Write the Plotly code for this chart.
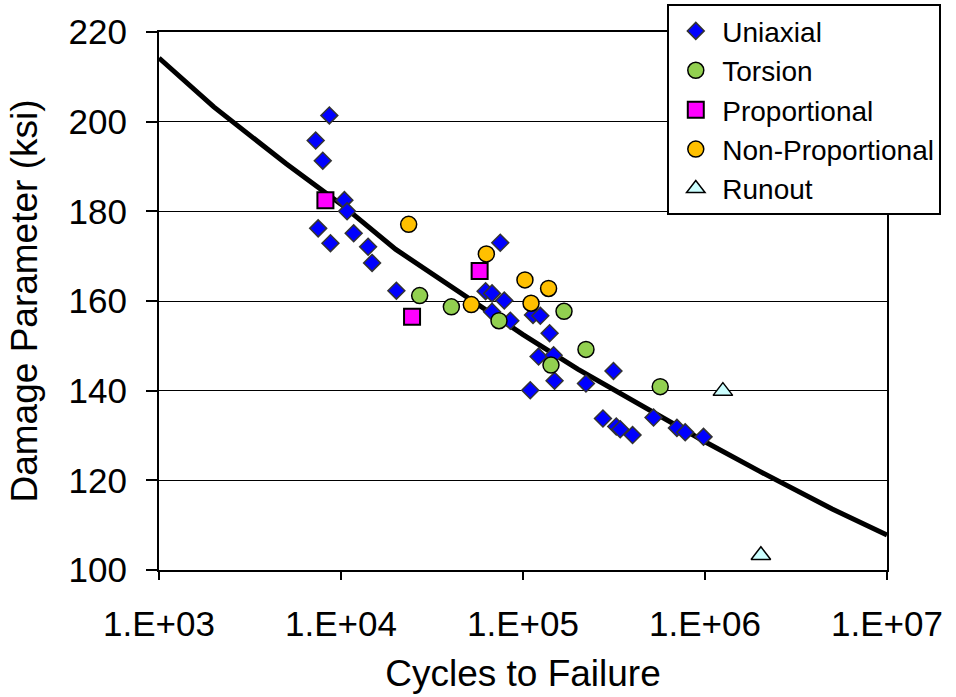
import plotly.graph_objects as go

# Fatigue test results: cycles to failure vs. damage parameter (ksi)
uniaxial_cycles = [8630, 7260, 7940, 10440, 10800, 7490, 8750, 11740, 14090, 14820,
                   20150, 75000, 62300, 67600, 78900, 67600, 85200, 113500, 124500, 140000,
                   121800, 147300, 149100, 221800, 314200, 109600, 275000, 325400, 342200,
                   399900, 521500, 701000, 778500, 981300]
uniaxial_dp = [201.4, 195.8, 191.3, 182.5, 180.0, 176.2, 172.9, 175.1, 172.1, 168.5,
               162.3, 173.0, 162.2, 161.7, 160.1, 157.6, 155.6, 156.9, 156.7, 152.8,
               147.6, 147.9, 142.2, 141.6, 144.4, 140.1, 133.8, 132.0, 131.4,
               130.1, 134.0, 131.7, 130.7, 129.7]

torsion_cycles = [27050, 40400, 73800, 168000, 221800, 142500, 567500]
torsion_dp = [161.2, 158.7, 155.6, 157.7, 149.2, 145.7, 140.9]

proportional_cycles = [8210, 24570, 57770]
proportional_dp = [182.5, 156.5, 166.7]

nonprop_cycles = [23540, 62900, 102500, 138200, 52000, 110700]
nonprop_dp = [177.1, 170.5, 164.7, 162.8, 159.2, 159.5]

runout_cycles = [1254000, 2028000]
runout_dp = [139.9, 103.3]

# Life prediction curve
curve_cycles = [1e3, 2e3, 5e3, 1e4, 2e4, 5e4, 1e5, 2e5, 5e5, 1e6, 2e6, 5e6, 1e7]
curve_dp = [214.2, 203.3, 190.6, 181.6, 171.5, 160.5, 152.5, 144.8, 135.5, 128.6, 122.0, 113.6, 107.8]

x_tick_vals = [1e3, 1e4, 1e5, 1e6, 1e7]
x_tick_text = ["1.E+03", "1.E+04", "1.E+05", "1.E+06", "1.E+07"]
y_tick_vals = [100, 120, 140, 160, 180, 200, 220]

FONT = "Liberation Sans, Arial, sans-serif"

fig = go.Figure()

fig.add_trace(go.Scatter(
    x=curve_cycles, y=curve_dp, mode="lines",
    line=dict(color="black", width=5), showlegend=False, hoverinfo="skip"))

fig.add_trace(go.Scatter(
    x=uniaxial_cycles, y=uniaxial_dp, mode="markers", name="Uniaxial",
    marker=dict(symbol="diamond", size=13, color="#0000FF",
                line=dict(color="#333333", width=1.5))))
fig.add_trace(go.Scatter(
    x=torsion_cycles, y=torsion_dp, mode="markers", name="Torsion",
    marker=dict(symbol="circle", size=16, color="#92D050",
                line=dict(color="black", width=1.5))))
fig.add_trace(go.Scatter(
    x=proportional_cycles, y=proportional_dp, mode="markers", name="Proportional",
    marker=dict(symbol="square", size=16, color="#FF00FF",
                line=dict(color="black", width=2))))
fig.add_trace(go.Scatter(
    x=nonprop_cycles, y=nonprop_dp, mode="markers", name="Non-Proportional",
    marker=dict(symbol="circle", size=16, color="#FFC000",
                line=dict(color="black", width=1.5))))
fig.add_trace(go.Scatter(
    x=runout_cycles, y=runout_dp, mode="markers", name="Runout",
    marker=dict(symbol="triangle-up", size=17, color="#CCFFFF",
                line=dict(color="black", width=1.5))))

fig.update_layout(
    width=956, height=697,
    margin=dict(l=158.5, r=69, t=32, b=127, autoexpand=False),
    paper_bgcolor="white", plot_bgcolor="white",
    font=dict(family=FONT, color="black", size=35),
    legend=dict(
        xref="container", yref="container",
        x=0.698, y=0.994, xanchor="left", yanchor="top",
        bgcolor="white", bordercolor="black", borderwidth=2,
        font=dict(family=FONT, size=28, color="black"),
        itemwidth=43, tracegroupgap=0),
    xaxis=dict(
        type="log", range=[3, 7],
        tickvals=x_tick_vals, ticktext=x_tick_text,
        ticks="outside", ticklen=8, tickwidth=2, tickcolor="black",
        ticklabelstandoff=14,
        showline=True, linecolor="black", linewidth=2, mirror=True,
        showgrid=False, zeroline=False,
        tickfont=dict(family=FONT, size=35),
        title=dict(text="Cycles to Failure", font=dict(family=FONT, size=37), standoff=18)),
    yaxis=dict(
        range=[100, 220], tickvals=y_tick_vals,
        ticks="outside", ticklen=11, tickwidth=1.5, tickcolor="black",
        ticklabelstandoff=12,
        showline=True, linecolor="black", linewidth=2, mirror=True,
        showgrid=True, gridcolor="black", gridwidth=1, zeroline=False,
        tickfont=dict(family=FONT, size=35),
        title=dict(text="Damage Parameter (ksi)", font=dict(family=FONT, size=37), standoff=20)),
)

fig.write_html("out.html")
